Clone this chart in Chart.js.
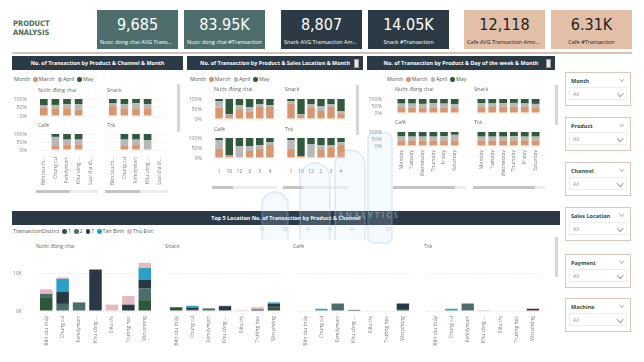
<!DOCTYPE html>
<html>
<head>
<meta charset="utf-8">
<script src="https://cdn.jsdelivr.net/npm/chart.js@4.4.0/dist/chart.umd.min.js"></script>
<style>
  body { margin: 0; width: 644px; height: 362px; background: #fff; position: relative; overflow: hidden; font-family: "Open Sans", "Noto Sans", sans-serif; }
  canvas { position: absolute; }
  .title { position: absolute; left: 13px; top: 19px; font-family: "DejaVu Sans Condensed", Roboto, sans-serif; font-weight: bold; font-size: 7.5px; line-height: 9px; color: #4b6a55; }
  .card { position: absolute; top: 10px; width: 81px; height: 39px; text-align: center; color: #fff; }
  .card .v { font-family: "DejaVu Sans Condensed", Roboto, sans-serif; font-size: 16px; line-height: 18px; margin-top: 6px; }
  .card .s { font-size: 5.5px; margin-top: 4px; white-space: nowrap; overflow: hidden; text-overflow: ellipsis; padding: 0 3px; }
  .rule { position: absolute; left: 12px; top: 52px; width: 620px; height: 1.5px; background: #d8c2b4; }
  .hdr { position: absolute; height: 14px; background: #2b3a45; color: #fff; font-weight: bold; font-size: 5.4px; line-height: 14px; text-align: center; white-space: nowrap; }
  .hdr .ic { position: absolute; right: 4px; top: 3px; width: 3px; height: 7px; background: #e8e8e8; border: 0.5px solid #999; }
  .lg { position: absolute; font-size: 5.3px; color: #555; white-space: nowrap; line-height: 7px; }
  .dot { display: inline-block; width: 4.5px; height: 4.5px; border-radius: 50%; vertical-align: -0.5px; margin: 0 1px 0 3px; }
  .st { position: absolute; font-size: 5.3px; color: #666; white-space: nowrap; line-height: 7px; }
  .vs { position: absolute; width: 3px; background: #d6d6d6; }
  .hs { position: absolute; height: 3px; }
  .slicer { position: absolute; left: 565px; width: 64px; height: 32px; border: 1.5px solid #dcc6b9; background: #fff; }
  .slicer .t { position: absolute; left: 5px; top: 4px; font-size: 5.5px; font-weight: bold; color: #2f4a3a; }
  .slicer .tc { position: absolute; right: 7px; top: 4px; width: 2.5px; height: 2.5px; border-right: 0.7px solid #bbb; border-bottom: 0.7px solid #bbb; transform: rotate(45deg); }
  .slicer .dd { position: absolute; left: 3px; top: 14px; width: 56px; height: 11px; border: 0.7px solid #ececec; }
  .slicer .dd span { position: absolute; left: 3px; top: 2px; font-size: 5.5px; color: #999; }
  .slicer .dd i { position: absolute; right: 4px; top: 2.5px; width: 3.5px; height: 3.5px; border-right: 0.8px solid #999; border-bottom: 0.8px solid #999; transform: rotate(45deg); }
  .wm { position: absolute; left: 0; top: 0; pointer-events: none; }
</style>
</head>
<body>

<div class="title">PRODUCT<br>ANALYSIS</div>

<div class="card" style="left:97px;background:#4d6e6c"><div class="v">9,685</div><div class="s">Nuoc dong chai AVG Transaction Amount</div></div>
<div class="card" style="left:184px;background:#4d6e6c"><div class="v">83.95K</div><div class="s">Nuoc dong chai #Transaction</div></div>
<div class="card" style="left:281px;background:#2b3a45"><div class="v">8,807</div><div class="s">Snack AVG Transaction Amount</div></div>
<div class="card" style="left:368px;background:#2b3a45"><div class="v">14.05K</div><div class="s">Snack #Transaction</div></div>
<div class="card" style="left:464px;background:#e3bfa8;color:#222"><div class="v">12,118</div><div class="s">Cafe AVG Transaction Amount</div></div>
<div class="card" style="left:551px;background:#e3bfa8;color:#222"><div class="v">6.31K</div><div class="s">Cafe #Transaction</div></div>
<div class="rule"></div>

<div class="hdr" style="left:12px;top:56px;width:171px">No. of Transaction by Product &amp; Channel &amp; Month</div>
<div class="hdr" style="left:187px;top:56px;width:176px">No. of Transaction by Product &amp; Sales Location &amp; Month<div class="ic"></div></div>
<div class="hdr" style="left:367px;top:56px;width:188px">No. of Transaction by Product &amp; Day of the week &amp; Month<div class="ic"></div></div>
<div class="hdr" style="left:12px;top:211px;width:548px">Top 5 Location No. of Transaction by Product &amp; Channel</div>

<div class="vs" style="left:177px;top:84px;height:48px"></div>
<div class="vs" style="left:356px;top:85px;height:50px"></div>
<div class="vs" style="left:555px;top:85px;height:40px"></div>
<div class="vs" style="left:555px;top:237px;height:40px"></div>

<div class="hs" style="left:36px;top:190px;width:34px;background:#c4c4c4"></div>
<div class="hs" style="left:70px;top:190px;width:28px;background:#ededed"></div>
<div class="hs" style="left:105px;top:190px;width:35px;background:#c4c4c4"></div>
<div class="hs" style="left:140px;top:190px;width:28px;background:#ededed"></div>
<div class="hs" style="left:212px;top:186px;width:21px;background:#c4c4c4"></div>
<div class="hs" style="left:233px;top:186px;width:44px;background:#ededed"></div>
<div class="hs" style="left:283px;top:186px;width:20px;background:#c4c4c4"></div>
<div class="hs" style="left:303px;top:186px;width:45px;background:#ededed"></div>
<div class="hs" style="left:393px;top:186px;width:62px;background:#c4c4c4"></div>
<div class="hs" style="left:455px;top:186px;width:11px;background:#ededed"></div>
<div class="hs" style="left:473px;top:186px;width:62px;background:#c4c4c4"></div>
<div class="hs" style="left:535px;top:186px;width:10px;background:#ededed"></div>

<div id="slicers"></div>

<script>
// month colours / names
const monthNames = ["March", "April", "May"];
const monthColors = ["#d9976f", "#b8b8b8", "#2f5a3b"];

// --- channel panel ---
const channelCats = ["Bến tàu th...", "Chung cư", "Familymart", "Khu công ...", "Loại địa đi..."];
const chNuocMarch = [48, 45, 45, 38, null];
const chNuocApril = [14, 20, 25, 32, null];
const chNuocMay = [38, 35, 30, 30, null];
const chSnackMarch = [58, 45, 45, 45, null];
const chSnackApril = [16, 25, 30, 25, null];
const chSnackMay = [26, 30, 25, 30, null];
const chCafeMarch = [null, 30, 35, 35, null];
const chCafeApril = [null, 52, 30, 30, null];
const chCafeMay = [null, 18, 35, 35, null];
const chTraMarch = [null, 30, 35, 0, null];
const chTraApril = [null, 35, 30, 62, null];
const chTraMay = [null, 35, 35, 38, null];

// --- sales location panel ---
const locationCats = ["1", "10", "12", "2", "3", "4"];
const slNuocMarch = [57, 20, 45, 35, 60, 60];
const slNuocApril = [33, 5, 25, 25, 15, 10];
const slNuocMay = [10, 75, 30, 40, 25, 30];
const slSnackMarch = [75, 20, 55, 40, 60, 25];
const slSnackApril = [15, 5, 20, 25, 15, 15];
const slSnackMay = [10, 75, 25, 35, 25, 60];
const slCafeMarch = [45, 15, 0, 35, 45, 65];
const slCafeApril = [45, 0, 60, 25, 20, 15];
const slCafeMay = [10, 85, 40, 40, 35, 20];
const slTraMarch = [45, 10, 0, 40, 50, 65];
const slTraApril = [45, 0, 70, 25, 15, 15];
const slTraMay = [10, 90, 30, 35, 35, 20];

// --- day of week panel ---
const dayCats = ["Monday", "Tuesday", "Wednesday", "Thursday", "Friday", "Saturday"];
const dwNuocMarch = [42, 40, 40, 40, 40, 40];
const dwNuocApril = [25, 27, 25, 30, 27, 22];
const dwNuocMay = [33, 33, 35, 30, 33, 38];
const dwSnackMarch = [45, 43, 45, 45, 43, 40];
const dwSnackApril = [25, 25, 25, 27, 25, 25];
const dwSnackMay = [30, 32, 30, 28, 32, 35];
const dwCafeMarch = [40, 40, 40, 40, 40, 40];
const dwCafeApril = [28, 27, 27, 27, 30, 40];
const dwCafeMay = [32, 33, 33, 33, 30, 20];
const dwTraMarch = [40, 40, 40, 40, 40, 40];
const dwTraApril = [27, 27, 27, 30, 27, 27];
const dwTraMay = [33, 33, 33, 30, 33, 33];

// --- top 5 location panel ---
const districtNames = ["1", "2", "7", "Tân Bình", "Thủ Đức"];
const districtColors = ["#2f5639", "#4b6d6b", "#283845", "#2b9fc7", "#e6b8bf"];
const locCats = ["Bến tàu thủy", "Chung cư", "Familymart", "Khu công ...", "Siêu thị", "Trường học", "Văn phòng"];
const nuocD1 = [3700, 0, 0, 0, 0, 0, 2900];
const nuocD2 = [900, 1900, 2300, 0, 0, 0, 3100];
const nuocD7 = [0, 3300, 0, 11000, 0, 1700, 2300];
const nuocTB = [0, 3400, 0, 200, 0, 0, 3200];
const nuocTD = [1200, 400, 0, 0, 1700, 2300, 1400];
const snackD1 = [900, 0, 0, 0, 0, 0, 800];
const snackD2 = [0, 300, 700, 0, 0, 0, 300];
const snackD7 = [150, 600, 0, 1300, 0, 400, 800];
const snackTB = [0, 500, 0, 100, 0, 0, 400];
const snackTD = [0, 0, 0, 0, 300, 600, 0];
const cafeD1 = [0, 0, 0, 0, 0, 0, 500];
const cafeD2 = [0, 0, 2000, 0, 0, 0, 0];
const cafeD7 = [0, 0, 0, 300, 0, 0, 1500];
const cafeTB = [0, 600, 0, 0, 0, 0, 0];
const cafeTD = [0, 0, 0, 0, 0, 0, 0];
const traD1 = [0, 0, 0, 0, 0, 0, 0];
const traD2 = [0, 0, 2000, 80, 0, 0, 0];
const traD7 = [0, 0, 0, 0, 0, 0, 550];
const traTB = [0, 600, 0, 0, 0, 0, 0];
const traTD = [0, 0, 0, 0, 0, 0, 200];
const bigTicks = [0, 10000];

const slicerNames = ["Month", "Product", "Channel", "Sales Location", "Payment", "Machine"];
const slicerTops = [72, 117, 162, 207, 254, 298];

const FONT = "'Open Sans', 'Noto Sans', sans-serif";
const PAD = 7;

function makeCanvas(area, yW, xH) {
  const cv = document.createElement("canvas");
  cv.width = Math.round(area[1] - area[0] + yW + 2 * PAD);
  cv.height = Math.round(area[3] - area[2] + xH + 2 * PAD);
  cv.style.left = (area[0] - PAD - yW) + "px";
  cv.style.top = (area[2] - PAD) + "px";
  document.body.appendChild(cv);
  return cv;
}

function addText(cls, x, y, html) {
  const d = document.createElement("div");
  d.className = cls;
  d.style.left = x + "px";
  d.style.top = y + "px";
  d.innerHTML = html;
  document.body.appendChild(d);
}

// the gap between tick labels and plot comes from an invisible tick mark,
// because ticks.padding would also eat vertical space
function xAxis(show, rot, gap, xH) {
  return {
    stacked: true, border: { display: false },
    grid: { display: false, drawTicks: show, tickLength: Math.max(gap - 1, 0) },
    ticks: { display: show, font: { size: 5, family: FONT, lineHeight: 1 }, color: "#777", autoSkip: false,
             maxRotation: rot ? 90 : 0, minRotation: rot ? 90 : 0, padding: 1 },
    afterFit: s => { s.height = xH; }
  };
}

function yAxis(show, gap, yW, max, fmt) {
  return {
    stacked: true, min: 0, max: max,
    grid: { color: "#e2e2e2", drawTicks: show, tickLength: Math.max(gap - 1, 0), tickColor: "rgba(0,0,0,0)" },
    border: { display: false, dash: [1, 1.5] },
    ticks: { display: show, stepSize: 50, autoSkip: false, callback: fmt, font: { size: 5.3, family: FONT, lineHeight: 1 },
             color: "#888", padding: 1 },
    afterFit: s => { s.width = yW; }
  };
}

const baseOpts = {
  responsive: false, animation: false, events: [],
  layout: { autoPadding: false, padding: PAD },
  plugins: { legend: { display: false }, tooltip: { enabled: false } }
};

// 100% stacked small multiple
function pctChart(area, labels, march, april, may, o) {
  const yW = o.yTicks ? 30 : 0;
  const xH = o.xH || 0;
  const cv = makeCanvas(area, yW, xH);
  const vals = [march, april, may];
  new Chart(cv, {
    type: "bar",
    data: {
      labels: labels,
      datasets: monthNames.map((m, i) => ({
        label: m, data: vals[i], backgroundColor: monthColors[i],
        barPercentage: o.bp, categoryPercentage: 1
      }))
    },
    options: Object.assign({}, baseOpts, {
      scales: {
        x: xAxis(xH > 0, o.rot, o.xPad || 2, xH),
        y: yAxis(!!o.yTicks, o.yPad || 10, yW, 100, v => v + "%")
      }
    })
  });
}

// stacked count small multiple
function countChart(area, series, o) {
  const yW = o.yTicks ? 30 : 0;
  const xH = 40;
  const cv = makeCanvas(area, yW, xH);
  const y = yAxis(!!o.yTicks, 16, yW, 15000, v => (v / 1000) + "K");
  y.afterBuildTicks = s => { s.ticks = bigTicks.map(v => ({ value: v })); };
  new Chart(cv, {
    type: "bar",
    data: {
      labels: locCats,
      datasets: districtNames.map((d, i) => ({
        label: d, data: series[i], backgroundColor: districtColors[i],
        barPercentage: 0.76, categoryPercentage: 1
      }))
    },
    options: Object.assign({}, baseOpts, {
      scales: { x: xAxis(true, true, 5, xH), y: y }
    })
  });
}

// legends
const monthLegend = "Month" + monthNames.map((m, i) =>
  '<span class="dot" style="background:' + monthColors[i] + '"></span>' + m).join("");
addText("lg", 14, 76, monthLegend);
addText("lg", 190, 76, monthLegend);
addText("lg", 387, 76, monthLegend);
addText("lg", 13, 228, "TransactionDistrict" + districtNames.map((d, i) =>
  '<span class="dot" style="background:' + districtColors[i] + '"></span>' + d).join(""));

// channel panel
addText("st", 38, 87, "Nước đóng chai");
addText("st", 107, 87, "Snack");
addText("st", 38, 122, "Café");
addText("st", 107, 122, "Trà");
pctChart([38, 96.3, 99, 116], channelCats, chNuocMarch, chNuocApril, chNuocMay, { yTicks: true, bp: 0.66, yPad: 11 });
pctChart([107, 165.3, 99, 116], channelCats, chSnackMarch, chSnackApril, chSnackMay, { bp: 0.66 });
pctChart([38, 96.3, 134, 150], channelCats, chCafeMarch, chCafeApril, chCafeMay, { yTicks: true, bp: 0.66, yPad: 11, xH: 36, rot: true, xPad: 7 });
pctChart([107, 165.3, 134, 150], channelCats, chTraMarch, chTraApril, chTraMay, { bp: 0.66, xH: 36, rot: true, xPad: 7 });

// sales location panel
addText("st", 214, 86, "Nước đóng chai");
addText("st", 285, 86, "Snack");
addText("st", 214, 126, "Café");
addText("st", 285, 126, "Trà");
pctChart([214.4, 275.6, 99, 119], locationCats, slNuocMarch, slNuocApril, slNuocMay, { yTicks: true, bp: 0.74, yPad: 12 });
pctChart([285.5, 345.5, 99, 119], locationCats, slSnackMarch, slSnackApril, slSnackMay, { bp: 0.74 });
pctChart([214.4, 275.6, 138, 158], locationCats, slCafeMarch, slCafeApril, slCafeMay, { yTicks: true, bp: 0.74, yPad: 12, xH: 20, xPad: 11 });
pctChart([285.5, 345.5, 138, 158], locationCats, slTraMarch, slTraApril, slTraMay, { bp: 0.74, xH: 20, xPad: 11 });

// day of week panel
addText("st", 395, 86, "Nước đóng chai");
addText("st", 474, 86, "Snack");
addText("st", 395, 119, "Café");
addText("st", 474, 119, "Trà");
pctChart([396, 460, 99, 113], dayCats, dwNuocMarch, dwNuocApril, dwNuocMay, { yTicks: true, bp: 0.72, yPad: 14 });
pctChart([476, 541, 99, 113], dayCats, dwSnackMarch, dwSnackApril, dwSnackMay, { bp: 0.72 });
pctChart([396, 460, 132, 146], dayCats, dwCafeMarch, dwCafeApril, dwCafeMay, { yTicks: true, bp: 0.72, yPad: 14, xH: 30, rot: true, xPad: 4 });
pctChart([476, 541, 132, 146], dayCats, dwTraMarch, dwTraApril, dwTraMay, { bp: 0.72, xH: 30, rot: true, xPad: 4 });

// top 5 location panel
addText("st", 36, 243, "Nước đóng chai");
addText("st", 165, 243, "Snack");
addText("st", 293, 243, "Café");
addText("st", 424, 243, "Trà");
countChart([38, 152.8, 254.7, 310.5], [nuocD1, nuocD2, nuocD7, nuocTB, nuocTD], { yTicks: true });
countChart([167.6, 281.8, 254.7, 310.5], [snackD1, snackD2, snackD7, snackTB, snackTD], {});
countChart([296.8, 411, 254.7, 310.5], [cafeD1, cafeD2, cafeD7, cafeTB, cafeTD], {});
countChart([427, 540.6, 254.7, 310.5], [traD1, traD2, traD7, traTB, traTD], {});

// slicers
const sl = document.getElementById("slicers");
slicerNames.forEach((n, i) => {
  const d = document.createElement("div");
  d.className = "slicer";
  d.style.top = slicerTops[i] + "px";
  d.innerHTML = '<div class="t">' + n + '</div><div class="tc"></div><div class="dd"><span>All</span><i></i></div>';
  sl.appendChild(d);
});
</script>

<svg class="wm" width="644" height="362">
  <g fill="rgba(200,225,245,0.18)" stroke="rgba(150,190,230,0.25)" stroke-width="2">
    <rect x="368" y="133" width="24" height="110" rx="6"/>
    <path d="M300 240 V178 a15 15 0 0 1 30 0 V240"/>
    <path d="M335 240 V165 a15 15 0 0 1 30 0 V240"/>
    <path d="M262 240 V205 a13 13 0 0 1 26 0 V240"/>
  </g>
  <text x="338" y="218" font-family="Open Sans, sans-serif" font-size="8" font-weight="bold" letter-spacing="2" fill="rgba(170,200,230,0.45)">ANALYTICS</text>
  <g fill="rgba(170,205,235,0.3)">
    <circle cx="262" cy="229" r="2.5"/><circle cx="285" cy="229" r="2.5"/><circle cx="308" cy="229" r="2.5"/>
    <circle cx="330" cy="229" r="2.5"/><circle cx="352" cy="229" r="2.5"/><circle cx="388" cy="229" r="2.5"/>
  </g>
</svg>
</body>
</html>
